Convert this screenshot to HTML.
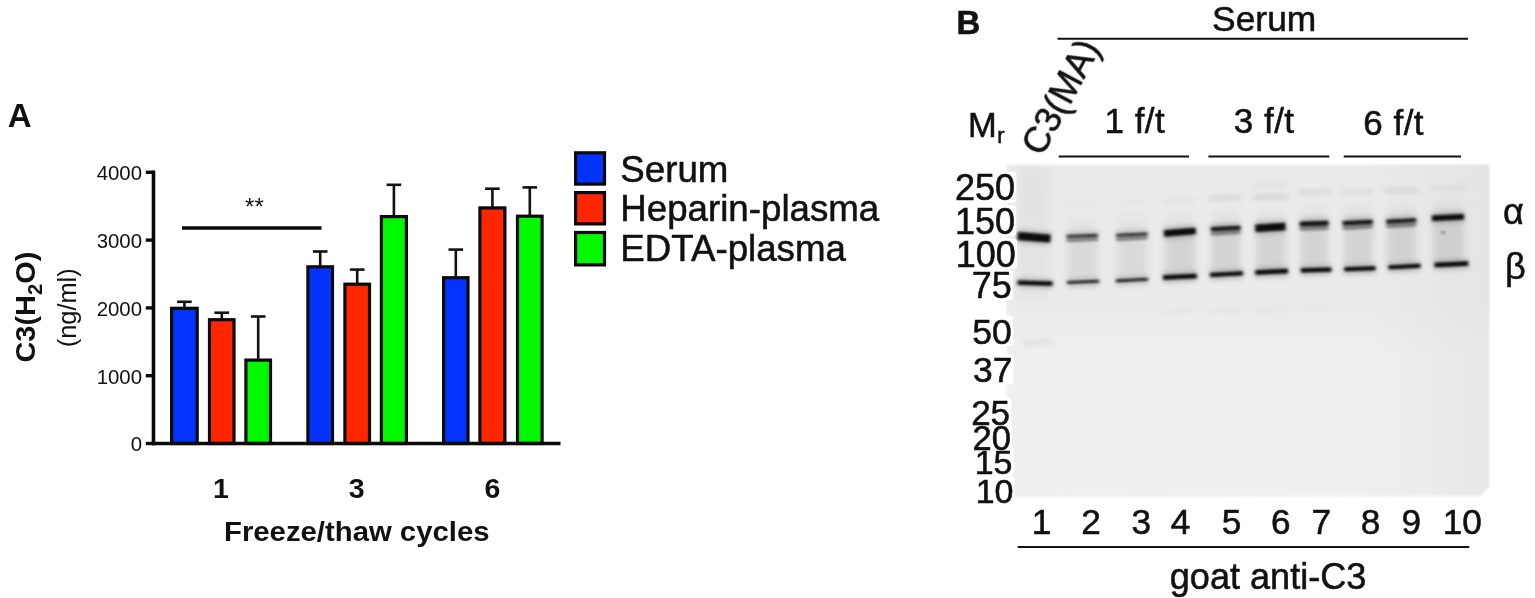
<!DOCTYPE html>
<html lang="en"><head><meta charset="utf-8"><title>Figure</title>
<style>
html,body{margin:0;padding:0;background:#fff;}
body{width:1535px;height:598px;overflow:hidden;}
svg{display:block;filter:blur(0.55px);}
text{font-family:"Liberation Sans",Arial,Helvetica,sans-serif;fill:#111;}
#panelB text,.hv{stroke:#111;stroke-width:0.55px;stroke-linejoin:round;}
.b{font-weight:bold;}
</style></head><body>
<svg width="1535" height="598" viewBox="0 0 1535 598">
<defs>
<filter id="bl1" filterUnits="userSpaceOnUse" x="990" y="150" width="520" height="360"><feGaussianBlur stdDeviation="1.5 1.0"/></filter>
<filter id="bl2" filterUnits="userSpaceOnUse" x="990" y="150" width="520" height="360"><feGaussianBlur stdDeviation="2.5 2.4"/></filter>
<filter id="bl3" filterUnits="userSpaceOnUse" x="990" y="150" width="520" height="360"><feGaussianBlur stdDeviation="3.5 6"/></filter>
<filter id="ble" x="-5%" y="-5%" width="110%" height="110%"><feGaussianBlur stdDeviation="1.2"/></filter>
<linearGradient id="bg1" x1="0" y1="0" x2="1" y2="0"><stop offset="0" stop-color="#efefef"/><stop offset="0.75" stop-color="#efefef"/><stop offset="1" stop-color="#e8e8e8"/></linearGradient>
<linearGradient id="bg2" x1="0" y1="0" x2="0" y2="1"><stop offset="0" stop-color="#000" stop-opacity="0.02"/><stop offset="0.42" stop-color="#000" stop-opacity="0.018"/><stop offset="0.6" stop-color="#000" stop-opacity="0"/><stop offset="1" stop-color="#000" stop-opacity="0"/></linearGradient>
</defs>
<rect width="1535" height="598" fill="#fff"/>

<g id="panelA">
<text class="b" x="7.7" y="127.3" font-size="33">A</text>
<line x1="184.4" y1="307.7" x2="184.4" y2="301.8" stroke="#111" stroke-width="2.6"/>
<line x1="177.1" y1="301.8" x2="191.7" y2="301.8" stroke="#111" stroke-width="2.6"/>
<rect x="171.6" y="308.3" width="25.6" height="135.2" fill="#0433ff" stroke="#0a0a0a" stroke-width="3.2"/>
<line x1="221.8" y1="319.1" x2="221.8" y2="312.7" stroke="#111" stroke-width="2.6"/>
<line x1="214.4" y1="312.7" x2="229.1" y2="312.7" stroke="#111" stroke-width="2.6"/>
<rect x="209.5" y="319.7" width="24.5" height="123.8" fill="#ff2600" stroke="#0a0a0a" stroke-width="3.2"/>
<line x1="258.2" y1="359.5" x2="258.2" y2="316.5" stroke="#111" stroke-width="2.6"/>
<line x1="250.9" y1="316.5" x2="265.5" y2="316.5" stroke="#111" stroke-width="2.6"/>
<rect x="245.9" y="360.1" width="24.6" height="83.4" fill="#00f900" stroke="#0a0a0a" stroke-width="3.2"/>
<line x1="320.2" y1="266.2" x2="320.2" y2="251.5" stroke="#111" stroke-width="2.6"/>
<line x1="312.9" y1="251.5" x2="327.5" y2="251.5" stroke="#111" stroke-width="2.6"/>
<rect x="307.9" y="266.8" width="24.6" height="176.7" fill="#0433ff" stroke="#0a0a0a" stroke-width="3.2"/>
<line x1="357.2" y1="283.6" x2="357.2" y2="269.6" stroke="#111" stroke-width="2.6"/>
<line x1="349.9" y1="269.6" x2="364.5" y2="269.6" stroke="#111" stroke-width="2.6"/>
<rect x="344.9" y="284.2" width="24.6" height="159.3" fill="#ff2600" stroke="#0a0a0a" stroke-width="3.2"/>
<line x1="393.9" y1="216.0" x2="393.9" y2="184.8" stroke="#111" stroke-width="2.6"/>
<line x1="386.6" y1="184.8" x2="401.2" y2="184.8" stroke="#111" stroke-width="2.6"/>
<rect x="381.4" y="216.6" width="25.0" height="226.9" fill="#00f900" stroke="#0a0a0a" stroke-width="3.2"/>
<line x1="455.8" y1="277.1" x2="455.8" y2="249.6" stroke="#111" stroke-width="2.6"/>
<line x1="448.5" y1="249.6" x2="463.1" y2="249.6" stroke="#111" stroke-width="2.6"/>
<rect x="443.6" y="277.7" width="24.4" height="165.8" fill="#0433ff" stroke="#0a0a0a" stroke-width="3.2"/>
<line x1="492.4" y1="207.3" x2="492.4" y2="188.7" stroke="#111" stroke-width="2.6"/>
<line x1="485.1" y1="188.7" x2="499.7" y2="188.7" stroke="#111" stroke-width="2.6"/>
<rect x="479.9" y="207.9" width="25.0" height="235.6" fill="#ff2600" stroke="#0a0a0a" stroke-width="3.2"/>
<line x1="529.8" y1="215.6" x2="529.8" y2="187.4" stroke="#111" stroke-width="2.6"/>
<line x1="522.5" y1="187.4" x2="537.1" y2="187.4" stroke="#111" stroke-width="2.6"/>
<rect x="517.5" y="216.2" width="24.6" height="227.3" fill="#00f900" stroke="#0a0a0a" stroke-width="3.2"/>
<line x1="153.5" y1="170.5" x2="153.5" y2="445.2" stroke="#0a0a0a" stroke-width="3.6"/>
<line x1="152" y1="443.5" x2="560.5" y2="443.5" stroke="#0a0a0a" stroke-width="3.4"/>
<line x1="145.8" y1="443.5" x2="153" y2="443.5" stroke="#0a0a0a" stroke-width="3.4"/>
<text x="142" y="451.3" font-size="20.4" text-anchor="end" fill="#222">0</text>
<line x1="145.8" y1="375.7" x2="153" y2="375.7" stroke="#0a0a0a" stroke-width="3.4"/>
<text x="142" y="383.5" font-size="20.4" text-anchor="end" fill="#222">1000</text>
<line x1="145.8" y1="307.9" x2="153" y2="307.9" stroke="#0a0a0a" stroke-width="3.4"/>
<text x="142" y="315.7" font-size="20.4" text-anchor="end" fill="#222">2000</text>
<line x1="145.8" y1="240.1" x2="153" y2="240.1" stroke="#0a0a0a" stroke-width="3.4"/>
<text x="142" y="247.9" font-size="20.4" text-anchor="end" fill="#222">3000</text>
<line x1="145.8" y1="172.3" x2="153" y2="172.3" stroke="#0a0a0a" stroke-width="3.4"/>
<text x="142" y="180.1" font-size="20.4" text-anchor="end" fill="#222">4000</text>
<line x1="182" y1="228" x2="321.5" y2="228" stroke="#0a0a0a" stroke-width="3.3"/>
<text x="254.4" y="214.8" font-size="24" text-anchor="middle" fill="#222">**</text>
<text class="b" x="221" y="497.8" font-size="28.5" text-anchor="middle">1</text>
<text class="b" x="356.7" y="497.8" font-size="28.5" text-anchor="middle">3</text>
<text class="b" x="492.5" y="497.8" font-size="28.5" text-anchor="middle">6</text>
<text class="b" x="224" y="540.8" font-size="28.5" textLength="265.5" lengthAdjust="spacingAndGlyphs">Freeze/thaw cycles</text>
<text class="b" transform="translate(34.5,362.6) rotate(-90)" font-size="28.5" textLength="111" lengthAdjust="spacingAndGlyphs">C3(H<tspan font-size="20" dy="7">2</tspan><tspan dy="-7">O)</tspan></text>
<text transform="translate(76.2,307.8) rotate(-90)" font-size="25.4" text-anchor="middle" fill="#333">(ng/ml)</text>
<rect x="575.6" y="152.8" width="28.9" height="31.3" fill="#0433ff" stroke="#0a0a0a" stroke-width="3.2"/>
<text class="hv" x="620.3" y="181.7" font-size="36.7">Serum</text>
<rect x="575.6" y="192.6" width="28.9" height="31.3" fill="#ff2600" stroke="#0a0a0a" stroke-width="3.2"/>
<text class="hv" x="620.3" y="220.8" font-size="36.7">Heparin-plasma</text>
<rect x="575.6" y="232.5" width="28.9" height="32.4" fill="#00f900" stroke="#0a0a0a" stroke-width="3.2"/>
<text class="hv" x="620.3" y="261.3" font-size="36.7">EDTA-plasma</text>
</g>
<g id="panelB">
<text class="b" x="956.5" y="34.2" font-size="33">B</text>
<text x="1264.2" y="31.4" font-size="35.4" text-anchor="middle">Serum</text>
<line x1="1057.5" y1="38.8" x2="1468" y2="38.8" stroke="#111" stroke-width="2"/>
<g filter="url(#ble)">
<path d="M1006.5 164.5 H1489.3 V486.5 L1481 496 L1006.5 497 Z" fill="url(#bg1)"/>
<path d="M1006.5 164.5 H1489.3 V486.5 L1481 496 L1006.5 497 Z" fill="url(#bg2)"/>
</g>
<g filter="url(#bl3)">
<rect x="1018.5" y="168" width="31.0" height="129.1" fill="#000" opacity="0.035"/>
<rect x="1067.5" y="233.8" width="30.5" height="50.2" fill="#000" opacity="0.07"/>
<rect x="1068.5" y="219.8" width="27.5" height="16" fill="#000" opacity="0.04"/>
<rect x="1117.0" y="232.4" width="30.7" height="49.7" fill="#000" opacity="0.07"/>
<rect x="1118.0" y="218.4" width="27.7" height="16" fill="#000" opacity="0.04"/>
<rect x="1165.0" y="230.2" width="30.7" height="48.6" fill="#000" opacity="0.1"/>
<rect x="1166.0" y="216.2" width="27.7" height="16" fill="#000" opacity="0.04"/>
<rect x="1211.8" y="226.3" width="28.7" height="49.8" fill="#000" opacity="0.1"/>
<rect x="1212.8" y="212.3" width="25.7" height="16" fill="#000" opacity="0.04"/>
<rect x="1256.3" y="225.4" width="29.2" height="48.5" fill="#000" opacity="0.1"/>
<rect x="1257.3" y="211.4" width="26.2" height="16" fill="#000" opacity="0.04"/>
<rect x="1300.7" y="221.5" width="27.8" height="50.5" fill="#000" opacity="0.1"/>
<rect x="1301.7" y="207.5" width="24.8" height="16" fill="#000" opacity="0.04"/>
<rect x="1343.7" y="220.5" width="29.0" height="50.3" fill="#000" opacity="0.1"/>
<rect x="1344.7" y="206.5" width="26.0" height="16" fill="#000" opacity="0.04"/>
<rect x="1387.2" y="218.8" width="29.0" height="49.7" fill="#000" opacity="0.1"/>
<rect x="1388.2" y="204.8" width="26.0" height="16" fill="#000" opacity="0.04"/>
<rect x="1432.9" y="215.5" width="31.1" height="50.8" fill="#000" opacity="0.1"/>
<rect x="1433.9" y="201.5" width="28.1" height="16" fill="#000" opacity="0.04"/>
</g>
<g filter="url(#bl2)">
<line x1="1017.5" y1="236.0" x2="1050.5" y2="238.6" stroke="#000" stroke-width="12.1" stroke-linecap="butt" opacity="0.25"/>
<line x1="1017.5" y1="282.6" x2="1052.5" y2="283.7" stroke="#000" stroke-width="8.5" stroke-linecap="butt" opacity="0.25"/>
<line x1="1066.5" y1="236.3" x2="1098.0" y2="235.2" stroke="#000" stroke-width="6.7" stroke-linecap="butt" opacity="0.20"/>
<line x1="1067.0" y1="282.6" x2="1099.0" y2="281.3" stroke="#000" stroke-width="6.7" stroke-linecap="butt" opacity="0.23"/>
<line x1="1116.0" y1="235.2" x2="1147.7" y2="233.7" stroke="#000" stroke-width="6.7" stroke-linecap="butt" opacity="0.20"/>
<line x1="1116.0" y1="280.9" x2="1148.0" y2="279.3" stroke="#000" stroke-width="6.8" stroke-linecap="butt" opacity="0.23"/>
<line x1="1164.0" y1="233.5" x2="1195.7" y2="230.9" stroke="#000" stroke-width="10.5" stroke-linecap="butt" opacity="0.25"/>
<line x1="1163.0" y1="277.6" x2="1196.8" y2="275.9" stroke="#000" stroke-width="8.7" stroke-linecap="butt" opacity="0.25"/>
<line x1="1210.8" y1="229.1" x2="1240.5" y2="227.6" stroke="#000" stroke-width="8.1" stroke-linecap="butt" opacity="0.24"/>
<line x1="1210.0" y1="275.0" x2="1243.0" y2="273.3" stroke="#000" stroke-width="8.3" stroke-linecap="butt" opacity="0.25"/>
<line x1="1255.3" y1="228.3" x2="1285.5" y2="226.5" stroke="#000" stroke-width="11.5" stroke-linecap="butt" opacity="0.25"/>
<line x1="1255.3" y1="272.6" x2="1288.0" y2="271.1" stroke="#000" stroke-width="8.7" stroke-linecap="butt" opacity="0.25"/>
<line x1="1299.7" y1="224.0" x2="1328.5" y2="223.0" stroke="#000" stroke-width="8.5" stroke-linecap="butt" opacity="0.24"/>
<line x1="1300.8" y1="270.4" x2="1331.4" y2="269.6" stroke="#000" stroke-width="8.3" stroke-linecap="butt" opacity="0.25"/>
<line x1="1342.7" y1="223.3" x2="1372.7" y2="221.7" stroke="#000" stroke-width="8.3" stroke-linecap="butt" opacity="0.24"/>
<line x1="1344.3" y1="269.3" x2="1375.5" y2="268.3" stroke="#000" stroke-width="8.3" stroke-linecap="butt" opacity="0.25"/>
<line x1="1386.2" y1="221.7" x2="1416.2" y2="220.0" stroke="#000" stroke-width="7.9" stroke-linecap="butt" opacity="0.23"/>
<line x1="1388.4" y1="267.4" x2="1420.5" y2="265.7" stroke="#000" stroke-width="8.1" stroke-linecap="butt" opacity="0.25"/>
<line x1="1431.9" y1="218.3" x2="1464.0" y2="216.7" stroke="#000" stroke-width="9.7" stroke-linecap="butt" opacity="0.25"/>
<line x1="1434.5" y1="265.0" x2="1468.3" y2="263.5" stroke="#000" stroke-width="8.7" stroke-linecap="butt" opacity="0.25"/>
<line x1="1025" y1="343" x2="1050" y2="342" stroke="#000" stroke-width="6" stroke-linecap="round" opacity="0.046"/>
<line x1="1068" y1="203" x2="1096" y2="202" stroke="#000" stroke-width="5" stroke-linecap="round" opacity="0.016"/>
<line x1="1117" y1="202" x2="1146" y2="201" stroke="#000" stroke-width="5" stroke-linecap="round" opacity="0.013"/>
<line x1="1166" y1="201.5" x2="1194" y2="200.5" stroke="#000" stroke-width="5" stroke-linecap="round" opacity="0.023"/>
<line x1="1211" y1="198.3" x2="1240" y2="197.3" stroke="#000" stroke-width="4.5" stroke-linecap="round" opacity="0.085"/>
<line x1="1256" y1="197.2" x2="1286" y2="196.2" stroke="#000" stroke-width="4.5" stroke-linecap="round" opacity="0.111"/>
<line x1="1256" y1="186" x2="1286" y2="185" stroke="#000" stroke-width="4" stroke-linecap="round" opacity="0.039"/>
<line x1="1300" y1="192.8" x2="1328" y2="191.8" stroke="#000" stroke-width="4.5" stroke-linecap="round" opacity="0.078"/>
<line x1="1344" y1="192.5" x2="1372" y2="191.5" stroke="#000" stroke-width="4.5" stroke-linecap="round" opacity="0.058"/>
<line x1="1386" y1="190.7" x2="1416" y2="189.7" stroke="#000" stroke-width="4.5" stroke-linecap="round" opacity="0.085"/>
<line x1="1432" y1="188.5" x2="1464" y2="187.5" stroke="#000" stroke-width="4.5" stroke-linecap="round" opacity="0.046"/>
<line x1="1166" y1="312" x2="1194" y2="311" stroke="#000" stroke-width="6" stroke-linecap="round" opacity="0.016"/>
<line x1="1212" y1="311" x2="1240" y2="310" stroke="#000" stroke-width="6" stroke-linecap="round" opacity="0.016"/>
<line x1="1256" y1="310" x2="1286" y2="309" stroke="#000" stroke-width="6" stroke-linecap="round" opacity="0.016"/>
<line x1="1300" y1="309" x2="1328" y2="308" stroke="#000" stroke-width="6" stroke-linecap="round" opacity="0.013"/>
</g>
<g filter="url(#bl1)">
<line x1="1017.7" y1="236.0" x2="1050.3" y2="238.6" stroke="#0a0a0a" stroke-width="7.9" stroke-linecap="butt" opacity="1.00"/>
<line x1="1017.7" y1="282.6" x2="1052.3" y2="283.7" stroke="#0a0a0a" stroke-width="4.3" stroke-linecap="butt" opacity="1.00"/>
<line x1="1068.5" y1="240.1" x2="1096.0" y2="239.0" stroke="#000" stroke-width="4.5" stroke-linecap="round" opacity="0.33"/>
<line x1="1066.7" y1="236.3" x2="1097.8" y2="235.2" stroke="#0a0a0a" stroke-width="2.5" stroke-linecap="butt" opacity="0.80"/>
<line x1="1067.2" y1="282.6" x2="1098.8" y2="281.3" stroke="#0a0a0a" stroke-width="2.5" stroke-linecap="butt" opacity="0.92"/>
<line x1="1118.0" y1="239.0" x2="1145.7" y2="237.5" stroke="#000" stroke-width="4.5" stroke-linecap="round" opacity="0.33"/>
<line x1="1116.2" y1="235.2" x2="1147.5" y2="233.7" stroke="#0a0a0a" stroke-width="2.5" stroke-linecap="butt" opacity="0.80"/>
<line x1="1116.2" y1="280.9" x2="1147.8" y2="279.3" stroke="#0a0a0a" stroke-width="2.6" stroke-linecap="butt" opacity="0.92"/>
<line x1="1164.2" y1="233.5" x2="1195.5" y2="230.9" stroke="#0a0a0a" stroke-width="6.3" stroke-linecap="butt" opacity="1.00"/>
<line x1="1163.2" y1="277.6" x2="1196.6" y2="275.9" stroke="#0a0a0a" stroke-width="4.5" stroke-linecap="butt" opacity="1.00"/>
<line x1="1212.8" y1="233.6" x2="1238.5" y2="232.1" stroke="#000" stroke-width="4.5" stroke-linecap="round" opacity="0.33"/>
<line x1="1211.0" y1="229.1" x2="1240.3" y2="227.6" stroke="#0a0a0a" stroke-width="3.9" stroke-linecap="butt" opacity="0.95"/>
<line x1="1210.2" y1="275.0" x2="1242.8" y2="273.3" stroke="#0a0a0a" stroke-width="4.1" stroke-linecap="butt" opacity="1.00"/>
<line x1="1255.5" y1="228.3" x2="1285.3" y2="226.5" stroke="#0a0a0a" stroke-width="7.3" stroke-linecap="butt" opacity="1.00"/>
<line x1="1255.5" y1="272.6" x2="1287.8" y2="271.1" stroke="#0a0a0a" stroke-width="4.5" stroke-linecap="butt" opacity="1.00"/>
<line x1="1301.7" y1="228.7" x2="1326.5" y2="227.7" stroke="#000" stroke-width="4.5" stroke-linecap="round" opacity="0.33"/>
<line x1="1299.9" y1="224.0" x2="1328.3" y2="223.0" stroke="#0a0a0a" stroke-width="4.3" stroke-linecap="butt" opacity="0.95"/>
<line x1="1301.0" y1="270.4" x2="1331.2" y2="269.6" stroke="#0a0a0a" stroke-width="4.1" stroke-linecap="butt" opacity="1.00"/>
<line x1="1344.7" y1="227.9" x2="1370.7" y2="226.3" stroke="#000" stroke-width="4.5" stroke-linecap="round" opacity="0.33"/>
<line x1="1342.9" y1="223.3" x2="1372.5" y2="221.7" stroke="#0a0a0a" stroke-width="4.1" stroke-linecap="butt" opacity="0.95"/>
<line x1="1344.5" y1="269.3" x2="1375.3" y2="268.3" stroke="#0a0a0a" stroke-width="4.1" stroke-linecap="butt" opacity="1.00"/>
<line x1="1388.2" y1="226.1" x2="1414.2" y2="224.4" stroke="#000" stroke-width="4.5" stroke-linecap="round" opacity="0.33"/>
<line x1="1386.4" y1="221.7" x2="1416.0" y2="220.0" stroke="#0a0a0a" stroke-width="3.7" stroke-linecap="butt" opacity="0.92"/>
<line x1="1388.6" y1="267.4" x2="1420.3" y2="265.7" stroke="#0a0a0a" stroke-width="3.9" stroke-linecap="butt" opacity="1.00"/>
<line x1="1432.1" y1="218.3" x2="1463.8" y2="216.7" stroke="#0a0a0a" stroke-width="5.5" stroke-linecap="butt" opacity="1.00"/>
<line x1="1434.7" y1="265.0" x2="1468.1" y2="263.5" stroke="#0a0a0a" stroke-width="4.5" stroke-linecap="butt" opacity="1.00"/>
<circle cx="1443.3" cy="232.6" r="1.6" fill="#000" opacity="0.45"/>
</g>
<rect x="1000" y="171.7" width="16.3" height="30.8" rx="4" fill="#fff"/>
<rect x="1000" y="205.3" width="16.3" height="30.8" rx="4" fill="#fff"/>
<rect x="1000" y="238.2" width="17.1" height="30.8" rx="4" fill="#fff"/>
<rect x="1000" y="269.4" width="12.9" height="30.8" rx="4" fill="#fff"/>
<rect x="1000" y="315.6" width="12.9" height="30.4" rx="4" fill="#fff"/>
<rect x="1000" y="354.1" width="13.7" height="30.4" rx="4" fill="#fff"/>
<rect x="1000" y="397.4" width="11.3" height="30.1" rx="4" fill="#fff"/>
<rect x="1000" y="422.8" width="12.1" height="29.7" rx="4" fill="#fff"/>
<rect x="1000" y="446.8" width="13.7" height="29.3" rx="4" fill="#fff"/>
<rect x="1000" y="475.8" width="14.7" height="29.3" rx="4" fill="#fff"/>
<text x="1015.1" y="200" font-size="36" text-anchor="end">250</text>
<text x="1015.1" y="233.6" font-size="36" text-anchor="end">150</text>
<text x="1015.9" y="266.5" font-size="36" text-anchor="end">100</text>
<text x="1011.7" y="297.7" font-size="36" text-anchor="end">75</text>
<text x="1011.7" y="343.5" font-size="35.5" text-anchor="end">50</text>
<text x="1012.5" y="382" font-size="35.5" text-anchor="end">37</text>
<text x="1010.1" y="425" font-size="35" text-anchor="end">25</text>
<text x="1010.9" y="450" font-size="34.5" text-anchor="end">20</text>
<text x="1012.5" y="473.6" font-size="34" text-anchor="end">15</text>
<text x="1013.5" y="502.6" font-size="34" text-anchor="end">10</text>
<text x="968" y="137.2" font-size="34.5">M<tspan font-size="22" dy="6" dx="0.5">r</tspan></text>
<text transform="translate(1042.5,157.5) rotate(-62)" font-size="36">C3(MA)</text>
<text x="1104.5" y="133" font-size="35" textLength="60.3">1 f/t</text>
<line x1="1058.7" y1="156.6" x2="1189" y2="156.6" stroke="#111" stroke-width="2"/>
<text x="1233.8" y="132.6" font-size="35" textLength="60.3">3 f/t</text>
<line x1="1208.4" y1="156.6" x2="1329.3" y2="156.6" stroke="#111" stroke-width="2"/>
<text x="1363.3" y="134.6" font-size="35" textLength="60.3">6 f/t</text>
<line x1="1343.7" y1="156.6" x2="1461" y2="156.6" stroke="#111" stroke-width="2"/>
<text x="1503" y="224" font-size="36" font-family="'Liberation Sans',sans-serif">α</text>
<text x="1505" y="279" font-size="36">β</text>
<text x="1041.6" y="534" font-size="35.2" text-anchor="middle">1</text>
<text x="1091" y="534" font-size="35.2" text-anchor="middle">2</text>
<text x="1141.2" y="534" font-size="35.2" text-anchor="middle">3</text>
<text x="1180.5" y="534" font-size="35.2" text-anchor="middle">4</text>
<text x="1231.5" y="534" font-size="35.2" text-anchor="middle">5</text>
<text x="1280.8" y="534" font-size="35.2" text-anchor="middle">6</text>
<text x="1321.4" y="534" font-size="35.2" text-anchor="middle">7</text>
<text x="1370.6" y="534" font-size="35.2" text-anchor="middle">8</text>
<text x="1411.3" y="534" font-size="35.2" text-anchor="middle">9</text>
<text x="1462.3" y="534" font-size="35.2" text-anchor="middle">10</text>
<line x1="1017.7" y1="547" x2="1469.2" y2="547" stroke="#111" stroke-width="2"/>
<text x="1169.8" y="588.7" font-size="36.1">goat anti-C3</text>
</g>
</svg></body></html>
